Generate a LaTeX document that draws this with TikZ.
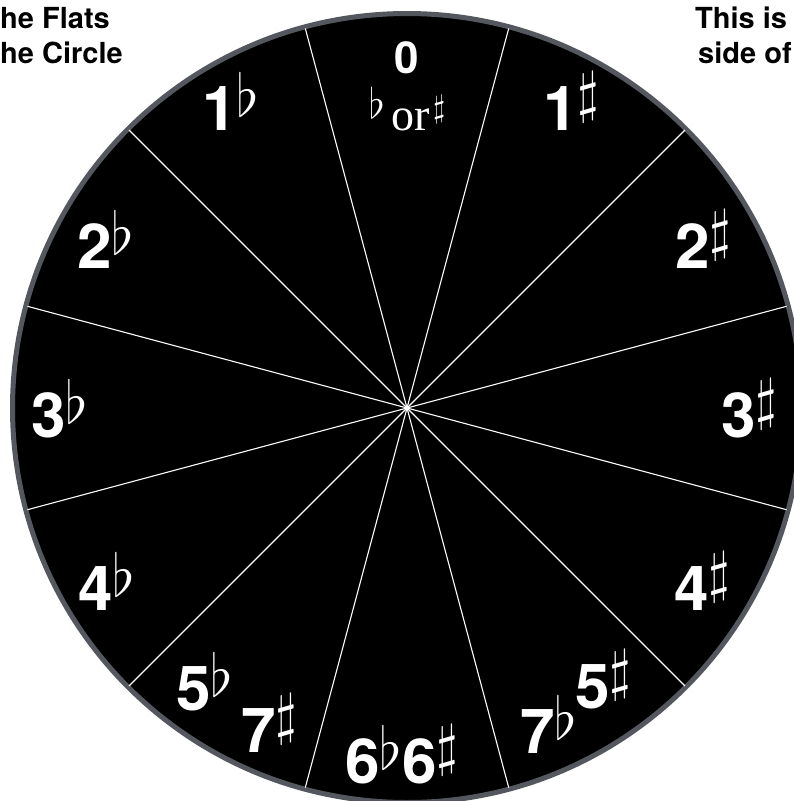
\RequirePackage{fix-cm}
\documentclass[tikz,border=0pt]{standalone}
\usepackage{fontspec}
\usetikzlibrary{calc}
\newfontfamily\heros{TeX Gyre Heros}
\newfontfamily\libserif{Liberation Serif}
\definecolor{rimgray}{RGB}{84,88,94}
\newcommand\keynum[1]{{\heros\bfseries\fontsize{62}{62}\selectfont #1}}
\newcommand\fl{\raisebox{14pt}{\fontsize{59}{59}\selectfont$\flat$}}
\newcommand\sh{\raisebox{19pt}{\fontsize{57}{57}\selectfont$\sharp$}}
\begin{document}
\begin{tikzpicture}[x=1pt, y=-1pt,
  keylabel/.style={anchor=base west, inner sep=0pt, text=white},
  title/.style={anchor=base west, inner sep=0pt, font=\heros\bfseries\fontsize{29}{29}\selectfont}]
  \clip (0,0) rectangle (794,801);
  \coordinate (hub) at (407,408);
  \fill[black] (hub) circle[radius=394.5];
  \draw[rimgray, line width=5pt] (hub) circle[radius=394.5];
  \foreach \a in {15,45,...,345} {
    \coordinate (rim\a) at ($(hub)+(\a:393)$);
    \draw[white, line width=1.1pt] (hub) -- (rim\a);
  }
  % titles
  \node[title] (tl1) at (0,28) {he Flats};
  \node[title] (tl2) at (0,63) {he Circle};
  \node[title] (tr1) at (695,28) {This is};
  \node[title] (tr2) at (698,63) {side of};
  % top sector
  \node[anchor=base, inner sep=0pt, text=white] (k0) at (407,73)
    {\heros\bfseries\fontsize{44}{44}\selectfont 0};
  \node[anchor=base, inner sep=0pt, text=white] (kor) at (407,130)
    {\raisebox{12pt}{\fontsize{42}{42}\selectfont$\flat$}\hspace{7pt}{\libserif\fontsize{46}{46}\selectfont or}\hspace{3pt}\raisebox{13pt}{\fontsize{32}{32}\selectfont$\sharp$}};
  % flats
  \node[keylabel] (kf1) at (202,130) {\keynum{1}\fl};
  \node[keylabel] (kf2) at (77,268) {\keynum{2}\fl};
  \node[keylabel] (kf3) at (31,437) {\keynum{3}\fl};
  \node[keylabel] (kf4) at (78,610) {\keynum{4}\fl};
  \node[keylabel] (kf5) at (176,710) {\keynum{5}\fl};
  \node[keylabel] (kf7) at (520,753) {\keynum{7}\fl};
  % sharps
  \node[keylabel] (ks1) at (543,130) {\keynum{1}\sh};
  \node[keylabel] (ks2) at (675,268) {\keynum{2}\sh};
  \node[keylabel] (ks3) at (721,437) {\keynum{3}\sh};
  \node[keylabel] (ks4) at (674,610) {\keynum{4}\sh};
  \node[keylabel] (ks5) at (575,708) {\keynum{5}\sh};
  \node[keylabel] (ks7) at (241,752) {\keynum{7}\sh};
  % bottom sector
  \node[keylabel] (k6) at (345,783) {\keynum{6}\fl\keynum{6}\sh};
\end{tikzpicture}
\end{document}
